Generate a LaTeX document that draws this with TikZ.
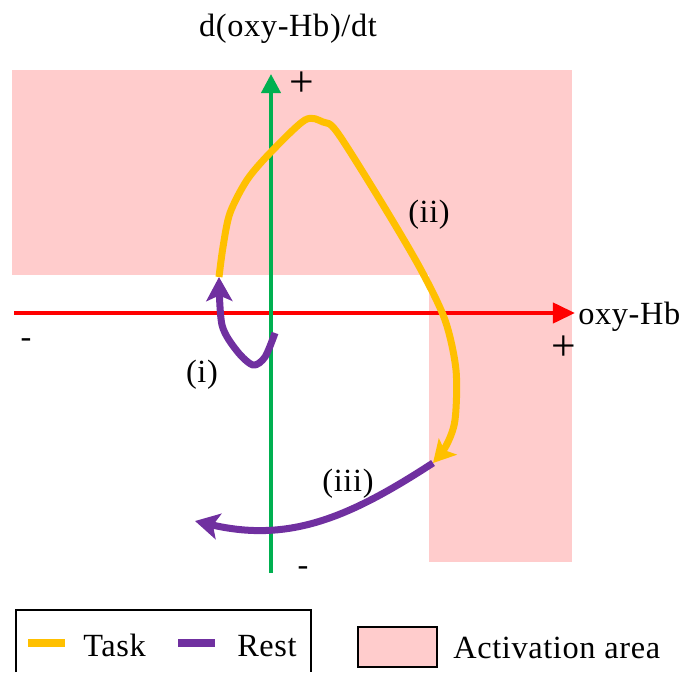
\documentclass[tikz,border=0pt]{standalone}
\usepackage{fontspec}
\setmainfont[LetterSpace=2]{Liberation Serif}
\usepackage{tikz}
\usetikzlibrary{arrows.meta, positioning}

\definecolor{taskyellow}{RGB}{255,192,0}
\definecolor{restpurple}{RGB}{112,48,160}
\definecolor{axisgreen}{RGB}{0,176,80}
\definecolor{actpink}{RGB}{255,204,204}

\begin{document}
\begin{tikzpicture}[
x=0.025cm, y=-0.025cm,
font=\fontsize{23}{27}\selectfont,
activation/.style={
fill=actpink
},
xaxis/.style={
draw=red,
line width=0.1cm,
-{Triangle[length=0.55cm, width=0.5cm]}
},
yaxis/.style={
draw=axisgreen,
line width=0.1cm,
-{Triangle[length=0.48cm, width=0.48cm]}
},
taskline/.style={
draw=taskyellow,
line width=0.175cm,
line join=round,
-{Stealth[length=0.55cm, width=0.6cm, inset=0.12cm]}
},
restline/.style={
draw=restpurple,
line width=0.175cm,
line join=round,
-{Stealth[length=0.6cm, width=0.65cm, inset=0.14cm]}
},
plussign/.style={
inner sep=0pt,
font=\fontsize{31}{31}\selectfont
},
minussign/.style={
inner sep=0pt
},
legendbar/.style={
line width=0.2cm
}
]

\useasboundingbox (0,0) rectangle (685,672);

% Activation area
\fill[activation] (12,70) rectangle (572,275);
\fill[activation] (429,275) rectangle (572,562);

% Axes
\coordinate (xneg) at (14,313);
\coordinate (xpos) at (575,313);
\coordinate (yneg) at (271,573);
\coordinate (ypos) at (271,74);
\draw[xaxis] (xneg) -- (xpos);
\draw[yaxis] (yneg) -- (ypos);

\node[anchor=base] (ylabel) at (288,36) {d(oxy-Hb)/dt};
\node[anchor=base west, inner sep=0pt] (xlabel) at (578,324) {oxy-Hb};

\node[plussign] (yplus) at (302,84) {+};
\node[plussign] (xplus) at (564,348) {+};
\node[minussign] (xminus) at (26,343) {-};
\node[minussign] (yminus) at (303,571) {-};

% Curves
\coordinate (taskstart) at (219,277);
\coordinate (taskend) at (433,463);
\coordinate (reststart) at (275,333);
\coordinate (restend) at (195,521);

\draw[restline] plot[smooth] coordinates {(reststart) (265,357) (253,365) (237,351) (222,325) (taskstart)};
\draw[taskline] plot[smooth] coordinates {(taskstart) (223,247) (230,213) (247,180) (270,153) (305,120) (323,122) (337,132) (380,200) (420,268) (445,320) (456,370) (455,420) (446,446) (taskend)};
\draw[restline] (taskend) .. controls (350,517) and (290,543) .. (restend);

\node (lbli) at (202,375) {(i)};
\node (lblii) at (429,215) {(ii)};
\node (lbliii) at (348,484) {(iii)};

% Legend
\draw[line width=1.5pt] (16,672) |- (311,610) -- (311,672);
\draw[legendbar, taskyellow] (28,643) -- (65,643);
\node[anchor=base west, inner sep=0pt] (tasktext) at (83,656) {Task};
\draw[legendbar, restpurple] (178,643) -- (215,643);
\node[anchor=base west, inner sep=0pt] (resttext) at (237,656) {Rest};
\draw[fill=actpink, line width=1.5pt] (358,627) rectangle (437,667);
\node[anchor=base west, inner sep=0pt] (acttext) at (453,658) {Activation area};

\end{tikzpicture}
\end{document}
